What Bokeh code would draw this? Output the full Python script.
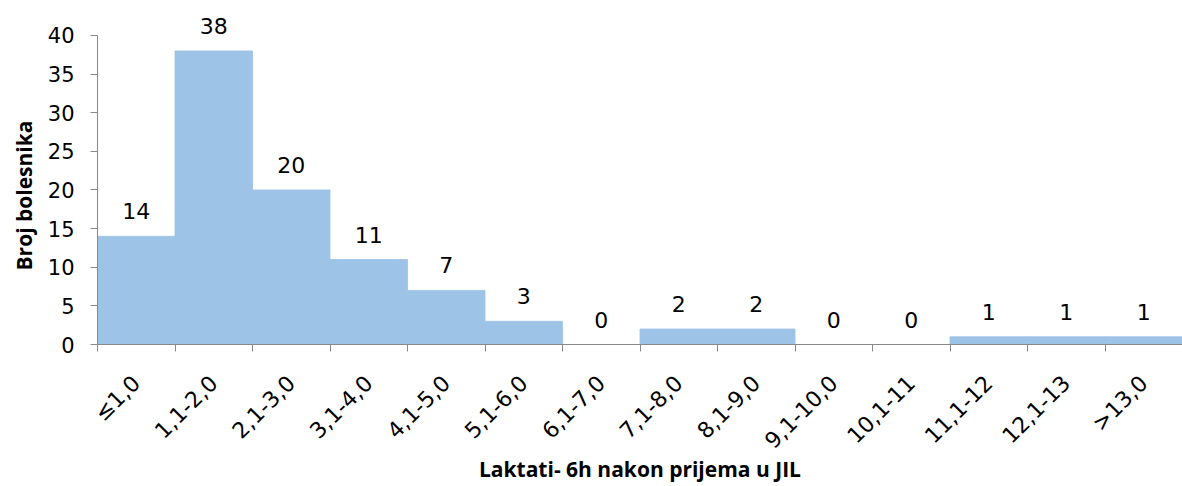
import numpy as np
from bokeh.plotting import figure
from bokeh.models import Range1d, FixedTicker, ColumnDataSource, Title
from bokeh.core.properties import value
from bokeh.embed import file_html
from bokeh.resources import INLINE

categories = ["≤1,0", "1,1-2,0", "2,1-3,0", "3,1-4,0", "4,1-5,0", "5,1-6,0", "6,1-7,0",
              "7,1-8,0", "8,1-9,0", "9,1-10,0", "10,1-11", "11,1-12", "12,1-13", ">13,0"]
counts = [14, 38, 20, 11, 7, 3, 0, 2, 2, 0, 0, 1, 1, 1]
y_ticks = [0, 5, 10, 15, 20, 25, 30, 35, 40]

NUMFONT = "DejaVu Sans"
TITLEFONT = "Open Sans"
BAR = "#9dc3e6"
n = len(categories)
centers = [i + 0.5 for i in range(n)]
bounds = [float(i) for i in range(n + 1)]

src = ColumnDataSource(dict(x=centers, top=counts, lab=[str(c) for c in counts]))

p = figure(width=1182, height=486, output_backend="svg", toolbar_location=None,
           x_range=Range1d(0, n), y_range=Range1d(0, 44.52),
           min_border_left=96, min_border_right=0, min_border_top=0, min_border_bottom=141)
p.outline_line_color = None
p.xgrid.visible = False
p.ygrid.visible = False
p.background_fill_color = "white"
p.border_fill_color = "white"

p.vbar(x="x", top="top", width=1.0, bottom=0, source=src,
       fill_color=BAR, line_color=BAR, line_width=0.8)
p.text(x="x", y="top", text="lab", source=src, text_align="center",
       text_baseline="alphabetic", y_offset=-25,
       text_font=value(NUMFONT), text_font_size="22px", text_color="#000000")

AX = "#898989"
ya = p.yaxis[0]
ya.ticker = FixedTicker(ticks=y_ticks)
ya.bounds = (0, 40)
ya.axis_line_color = AX
ya.major_tick_line_color = AX
ya.major_tick_out = 7
ya.major_tick_in = 0
ya.minor_tick_line_color = None
ya.major_label_text_font = NUMFONT
ya.major_label_text_font_size = "21px"
ya.major_label_text_color = "#000000"
ya.major_label_standoff = 16

p.add_layout(Title(text="Broj bolesnika", align="left", offset=74,
                   text_font=TITLEFONT, text_font_style="bold", text_font_size="21px",
                   text_color="#000000", standoff=14), "left")

xa = p.xaxis[0]
xa.ticker = FixedTicker(ticks=centers, minor_ticks=bounds)
xa.major_label_overrides = {c: lab for c, lab in zip(centers, categories)}
xa.major_label_orientation = np.pi / 4
xa.axis_line_color = AX
xa.major_tick_line_color = None
xa.minor_tick_line_color = AX
xa.minor_tick_out = 7
xa.minor_tick_in = 0
xa.major_label_text_font = NUMFONT
xa.major_label_text_font_size = "22px"
xa.major_label_text_color = "#000000"
xa.major_label_standoff = 28
xa.axis_label = "Laktati- 6h nakon prijema u JIL"
xa.axis_label_text_font = TITLEFONT
xa.axis_label_text_font_style = "bold"
xa.axis_label_text_font_size = "21px"
xa.axis_label_text_color = "#000000"
xa.axis_label_standoff = -10

open("out.html", "w").write(file_html(p, INLINE))
